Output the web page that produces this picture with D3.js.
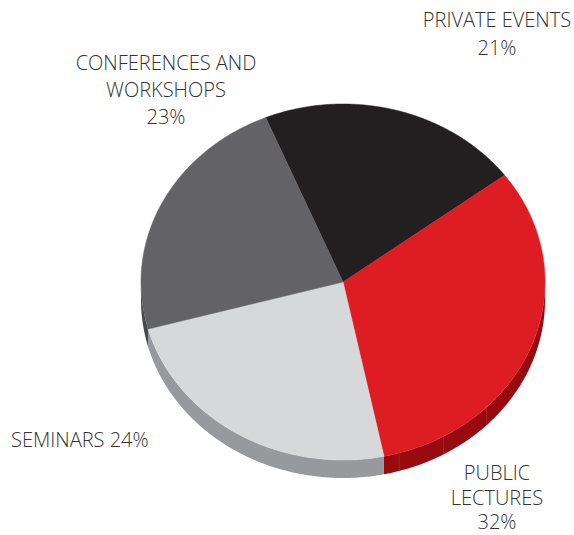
<!DOCTYPE html>
<html><head><meta charset="utf-8">
<script src="https://cdn.jsdelivr.net/npm/d3@7"></script>
<style>
html,body{margin:0;padding:0;background:#fff;}
text{font-family:"Open Sans","Noto Sans",sans-serif;fill:#333;font-size:20px;font-weight:300;}
</style></head>
<body>
<script>
const categories = ["PRIVATE EVENTS", "PUBLIC LECTURES", "SEMINARS", "CONFERENCES AND WORKSHOPS"];
const values = [21, 32, 24, 23];
const topColors = ["#221f20", "#de1c24", "#d7d8da", "#636365"];
const sideColors = ["#141213", "#970a0e", "#98999c", "#4a4a4c"];
const labelLines = [
  ["PRIVATE EVENTS", "21%"],
  ["PUBLIC", "LECTURES", "32%"],
  ["SEMINARS 24%"],
  ["CONFERENCES AND", "WORKSHOPS", "23%"]
];

const W = 574, H = 535;
const cx = 343, cy = 282, rx = 202, ry = 178, depth = 18;
const startDeg = -22.5;

const svg = d3.select("body").append("svg").attr("width", W).attr("height", H);

const pie = d3.pie().sort(null).value(d => d)
  .startAngle(startDeg * Math.PI / 180)
  .endAngle(startDeg * Math.PI / 180 + 2 * Math.PI);
const arcs = pie(values);

const pt = (a, dy = 0) => [cx + rx * Math.sin(a), cy - ry * Math.cos(a) + dy];

function topPath(a0, a1) {
  const n = Math.max(8, Math.ceil((a1 - a0) / 0.01));
  const pts = d3.range(n + 1).map(i => pt(a0 + (a1 - a0) * i / n));
  return "M" + cx + "," + cy + "L" + pts.map(p => p.join(",")).join("L") + "Z";
}

function sidePath(a0, a1) {
  const segs = [];
  for (let k = -1; k <= 1; k++) {
    const lo = Math.PI / 2 + k * 2 * Math.PI, hi = 3 * Math.PI / 2 + k * 2 * Math.PI;
    const s = Math.max(a0, lo), e = Math.min(a1, hi);
    if (e > s) segs.push([s, e]);
  }
  return segs.map(([s, e]) => {
    const n = Math.max(8, Math.ceil((e - s) / 0.01));
    const topPts = d3.range(n + 1).map(i => pt(s + (e - s) * i / n));
    const botPts = d3.range(n + 1).map(i => pt(e - (e - s) * i / n, depth));
    return "M" + topPts.concat(botPts).map(p => p.join(",")).join("L") + "Z";
  }).join("");
}

svg.append("g").selectAll("path").data(arcs).join("path")
  .attr("d", d => sidePath(d.startAngle, d.endAngle))
  .attr("fill", (d, i) => sideColors[i]);

const facetAngles = [2.35, 2.62, 2.86];
svg.append("g").selectAll("line").data(facetAngles).join("line")
  .attr("x1", a => pt(a)[0]).attr("y1", a => pt(a)[1])
  .attr("x2", a => pt(a, depth)[0]).attr("y2", a => pt(a, depth)[1])
  .attr("stroke", "#c4585b").attr("stroke-width", 0.6).attr("opacity", 0.6);

svg.append("g").selectAll("path").data(arcs).join("path")
  .attr("d", d => topPath(d.startAngle, d.endAngle))
  .attr("fill", (d, i) => topColors[i])
  .attr("stroke", (d, i) => topColors[i]).attr("stroke-width", 0.5);

const labelPos = [
  {x: 497, y: 27, anchor: "middle", lh: 28},
  {x: 497, y: 480, anchor: "middle", lh: 24.5},
  {x: 11, y: 447, anchor: "start", lh: 27},
  {x: 166, y: 70, anchor: "middle", lh: 27}
];
labelLines.forEach((lines, i) => {
  const p = labelPos[i];
  const t = svg.append("text").attr("text-anchor", p.anchor);
  lines.forEach((l, j) => t.append("tspan").attr("x", p.x).attr("y", p.y + j * p.lh).text(l));
});
</script>
</body></html>
